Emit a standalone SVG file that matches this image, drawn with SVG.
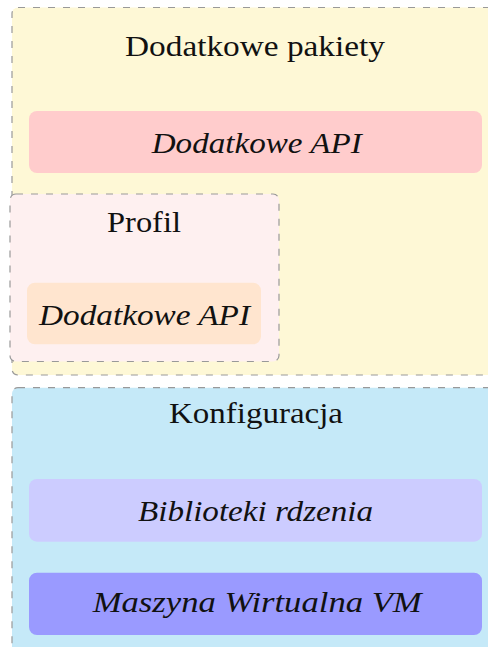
<svg xmlns="http://www.w3.org/2000/svg" width="488" height="647" viewBox="0 0 488 647">
  <style>
    .frame { stroke: #999999; stroke-width: 1.2; stroke-dasharray: 7 8; }
    .title { font-family: "Liberation Serif", "DejaVu Serif", serif; font-size: 30px; fill: #111; text-anchor: middle; }
    .api { font-family: "Liberation Serif", "DejaVu Serif", serif; font-size: 30px; font-style: italic; fill: #111; text-anchor: middle; }
  </style>
  <rect width="488" height="647" fill="#ffffff"/>

  <!-- optional packages layer -->
  <g id="pakiety">
    <rect class="frame" x="12" y="7.5" width="500" height="367.5" rx="6" fill="#FEF8D6"/>
    <text class="title" x="255" y="56" textLength="260" lengthAdjust="spacingAndGlyphs">Dodatkowe pakiety</text>
  </g>
  <g id="pakiety-api">
    <rect x="29" y="111" width="453" height="62" rx="8" fill="#FFCCCC"/>
    <text class="api" x="256.7" y="153" textLength="210" lengthAdjust="spacingAndGlyphs">Dodatkowe API</text>
  </g>

  <!-- profile layer -->
  <g id="profil">
    <rect class="frame" x="10" y="194" width="269" height="167.5" rx="6" fill="#FEF0F0"/>
    <text class="title" x="144" y="231.5" textLength="74" lengthAdjust="spacingAndGlyphs">Profil</text>
  </g>
  <g id="profil-api">
    <rect x="27" y="282.7" width="234" height="61.6" rx="8" fill="#FFE5CF"/>
    <text class="api" x="144.5" y="325" textLength="211" lengthAdjust="spacingAndGlyphs">Dodatkowe API</text>
  </g>

  <!-- configuration layer (continues past the lower edge) -->
  <g id="konfiguracja">
    <rect class="frame" x="12" y="387.7" width="500" height="280" rx="6" fill="#C5E9F8"/>
    <text class="title" x="256" y="423.3" textLength="174" lengthAdjust="spacingAndGlyphs">Konfiguracja</text>
  </g>
  <g id="biblioteki">
    <rect x="29" y="479" width="453" height="62.7" rx="8" fill="#CCCCFF"/>
    <text class="api" x="255.5" y="520.7" textLength="235" lengthAdjust="spacingAndGlyphs">Biblioteki rdzenia</text>
  </g>
  <g id="vm">
    <rect x="29" y="572.7" width="453" height="62.3" rx="8" fill="#9A9AFF"/>
    <text class="api" x="257.2" y="611.7" textLength="329" lengthAdjust="spacingAndGlyphs">Maszyna Wirtualna VM</text>
  </g>

  <g id="connectors"></g>
</svg>
